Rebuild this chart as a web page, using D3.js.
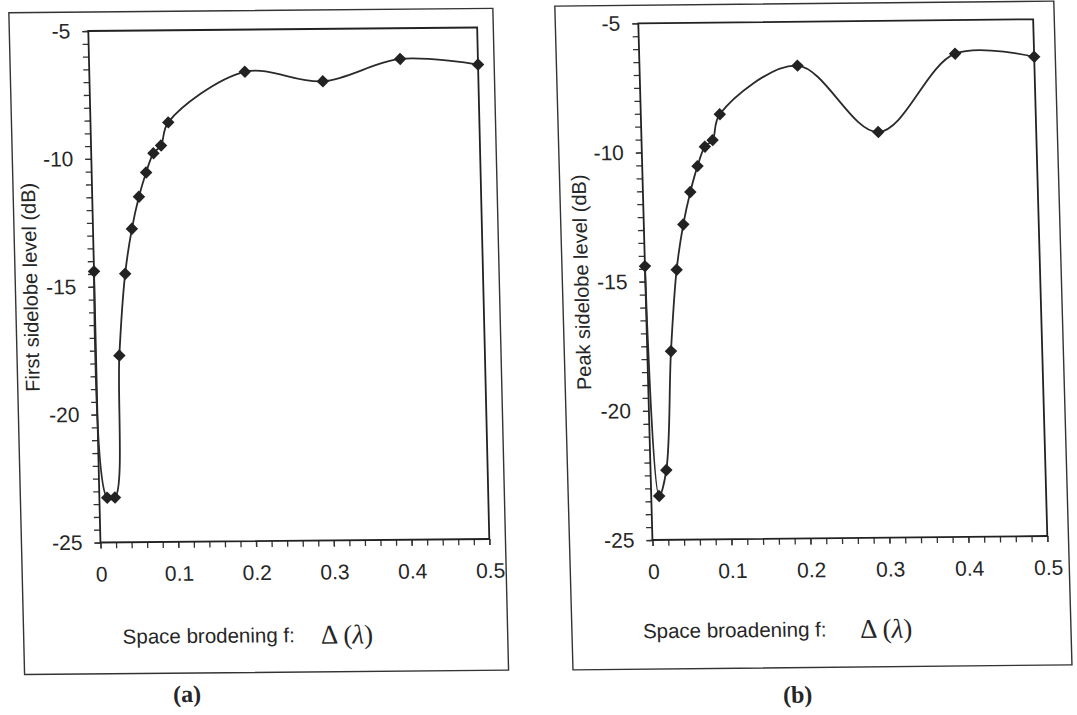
<!DOCTYPE html>
<html>
<head>
<meta charset="utf-8">
<script src="https://cdn.jsdelivr.net/npm/d3@7"></script>
<style>
  body { margin: 0; background: #fff; }
  svg { display: block; }
  text { font-family: "Liberation Sans", Arial, sans-serif; fill: #262626; }
</style>
</head>
<body>
<script>
// space broadening factor
const spacing = [0, 0.01, 0.02, 0.03, 0.04, 0.05, 0.06, 0.07, 0.08, 0.09, 0.1, 0.2, 0.3, 0.4, 0.5];
const firstSidelobe = [-14.4, -23.25, -23.25, -17.7, -14.5, -12.75, -11.5, -10.55, -9.8, -9.5, -8.6, -6.65, -7.05, -6.2, -6.45];
const peakSidelobe = [-14.4, -23.3, -22.3, -17.7, -14.55, -12.8, -11.55, -10.55, -9.8, -9.55, -8.55, -6.7, -9.3, -6.3, -6.45];
const xTicks = [0, 0.1, 0.2, 0.3, 0.4, 0.5];
const yTicks = [-25, -20, -15, -10, -5];

const width = 1077;
const height = 715;

const svg = d3.select("body")
  .append("svg")
    .attr("width", width)
    .attr("height", height);

// the scan is a little skewed, so each panel gets the corners of its plot box
const panels = [
  { values: firstSidelobe, yTitle: "First sidelobe level (dB)", xTitle: "Space brodening f:", caption: "(a)",
    tl: [88.3, 31], tr: [476.7, 26.7], bl: [100, 541.7], br: [489.3, 539],
    frame: [-79, -19, 405, 643], xTitleX: 20, deltaX: 218, titleY: 613, capX: 83, capY: 664 },
  { values: peakSidelobe, yTitle: "Peak sidelobe level (dB)", xTitle: "Space broadening f:", caption: "(b)",
    tl: [638.3, 23.3], tr: [1031.7, 19.3], bl: [651, 540], br: [1047.3, 536],
    frame: [-83, -18, 416, 646], xTitleX: -12, deltaX: 205, titleY: 615, capX: 141, capY: 673 }
];

panels.forEach(function(p) {
  const hx = [((p.tr[0] - p.tl[0]) + (p.br[0] - p.bl[0])) / 2, ((p.tr[1] - p.tl[1]) + (p.br[1] - p.bl[1])) / 2];
  const vy = [((p.bl[0] - p.tl[0]) + (p.br[0] - p.tr[0])) / 2, ((p.bl[1] - p.tl[1]) + (p.br[1] - p.tr[1])) / 2];
  const w = Math.hypot(hx[0], hx[1]);
  const h = Math.hypot(vy[0], vy[1]);

  const g = svg.append("g")
    .attr("transform", "matrix(" + [hx[0] / w, hx[1] / w, vy[0] / h, vy[1] / h, p.tl[0], p.tl[1]].join(",") + ")");

  const xScale = d3.scaleLinear().domain([0, 0.5]).range([0, w]);
  const yScale = d3.scaleLinear().domain([-25, -5]).range([h, 0]);

  // outer frame of the figure
  g.append("rect")
    .attr("x", p.frame[0]).attr("y", p.frame[1])
    .attr("width", p.frame[2] - p.frame[0]).attr("height", p.frame[3] - p.frame[1])
    .attr("fill", "none").attr("stroke", "#333").attr("stroke-width", 1.4);

  // minor ticks
  g.append("g")
    .attr("transform", "translate(0," + h + ")")
    .call(d3.axisBottom(xScale).tickValues(d3.range(0, 26).map(function(i) { return i * 0.02; }))
      .tickSize(6).tickFormat(""));
  g.append("g")
    .call(d3.axisLeft(yScale).tickValues(d3.range(0, 41).map(function(i) { return -25 + i * 0.5; }))
      .tickSize(6).tickFormat(""));

  // major ticks and labels
  g.append("g")
    .attr("transform", "translate(0," + h + ")")
    .call(d3.axisBottom(xScale).tickValues(xTicks).tickSize(6).tickPadding(18)
      .tickFormat(function(d) { return String(d); }));
  g.append("g")
    .call(d3.axisLeft(yScale).tickValues(yTicks).tickSize(6).tickPadding(12)
      .tickFormat(function(d) { return String(d); }));

  g.selectAll(".domain").remove();
  g.selectAll(".tick line").attr("stroke", "#333").attr("stroke-width", 1.3);
  g.selectAll(".tick text").attr("font-size", 21).attr("fill", "#262626")
    .attr("font-family", "Liberation Sans, Arial, sans-serif");

  // plot box
  g.append("rect")
    .attr("width", w).attr("height", h)
    .attr("fill", "none").attr("stroke", "#222").attr("stroke-width", 1.8);

  const line = d3.line()
    .x(function(d, i) { return xScale(spacing[i]); })
    .y(function(d) { return yScale(d); })
    .curve(d3.curveCatmullRom.alpha(0.5));

  g.append("path")
    .datum(p.values)
    .attr("d", line)
    .attr("fill", "none")
    .attr("stroke", "#2a2a2a")
    .attr("stroke-width", 1.8);

  g.selectAll(".mark")
    .data(p.values)
    .enter()
    .append("path")
      .attr("class", "mark")
      .attr("d", d3.symbol(d3.symbolSquare, 78))
      .attr("transform", function(d, i) {
        return "translate(" + xScale(spacing[i]) + "," + yScale(d) + ") rotate(45)";
      })
      .attr("fill", "#222");

  g.append("text")
    .attr("transform", "translate(-64," + (h / 2) + ") rotate(-90)")
    .attr("text-anchor", "middle")
    .attr("dominant-baseline", "central")
    .attr("font-size", 20)
    .text(p.yTitle);

  g.append("text")
    .attr("x", p.xTitleX).attr("y", p.titleY)
    .attr("font-size", 20.5)
    .text(p.xTitle);

  const delta = g.append("text")
    .attr("x", p.deltaX).attr("y", p.titleY + 2)
    .attr("font-size", 27)
    .style("font-family", "'Liberation Serif', 'Times New Roman', serif");
  delta.append("tspan").text("\u0394 (");
  delta.append("tspan").attr("font-style", "italic").text("\u03bb");
  delta.append("tspan").text(")");

  g.append("text")
    .attr("x", p.capX).attr("y", p.capY)
    .attr("text-anchor", "middle")
    .attr("dominant-baseline", "central")
    .attr("font-size", 24)
    .attr("font-weight", "bold")
    .style("font-family", "'Liberation Serif', 'Times New Roman', serif")
    .text(p.caption);
});
</script>
</body>
</html>
